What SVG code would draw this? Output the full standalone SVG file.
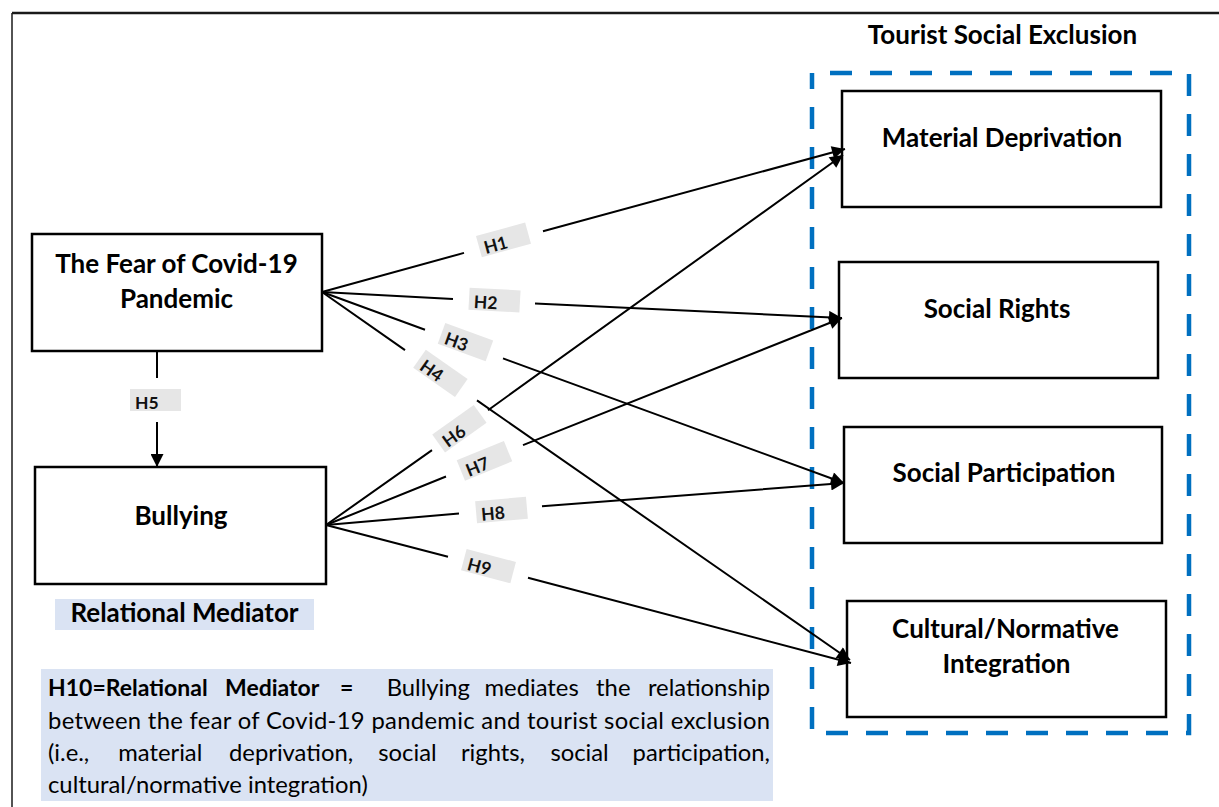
<svg xmlns="http://www.w3.org/2000/svg" width="1219" height="807" viewBox="0 0 1219 807">
<defs>
<marker id="ah" viewBox="0 0 10 10" refX="10" refY="5" markerWidth="15" markerHeight="13" markerUnits="userSpaceOnUse" orient="auto">
<path d="M0,0 L10,5 L0,10 z" fill="#000"/>
</marker>
<style>
.node{fill:#fff;stroke:#000;stroke-width:2.5}
.nt{font-family:Lato,"Liberation Sans",sans-serif;font-weight:700;font-size:26px;fill:#000;text-anchor:middle}
.conn{fill:none;stroke:#000;stroke-width:2;marker-end:url(#ah)}
.hl{fill:#e6e6e6}
.ht{font-family:Lato,"Liberation Sans",sans-serif;font-weight:700;font-size:17.5px;fill:#111}
.bt{font-family:Lato,"Liberation Sans",sans-serif;font-size:23.8px;fill:#000}
.b{font-weight:700;font-size:23px}
</style>
</defs>
<rect width="1219" height="807" fill="#fff"/>
<g id="frame">
<line x1="12" y1="13" x2="1219" y2="13" stroke="#1a1a1a" stroke-width="2.5"/>
<line x1="12" y1="13" x2="12" y2="807" stroke="#1a1a1a" stroke-width="1.5"/>
</g>
<g id="group-tse">
<rect x="812" y="73" width="377" height="660" fill="none" stroke="#0070c0" stroke-width="4.5" stroke-dasharray="22 18" stroke-dashoffset="22"/>
<text class="nt" x="1002.5" y="44">Tourist Social Exclusion</text>
</g>
<g id="node-fear">
<rect class="node" x="32" y="234" width="290" height="117"/>
<text class="nt" x="176.5" y="273">The Fear of Covid-19</text>
<text class="nt" x="176.5" y="308">Pandemic</text>
</g>
<g id="node-bullying">
<rect class="node" x="35" y="467" width="291" height="117"/>
<text class="nt" x="181" y="525">Bullying</text>
</g>
<g id="label-mediator">
<rect x="55" y="599" width="259" height="31" fill="#dae3f3"/>
<text class="nt" x="184.5" y="622">Relational Mediator</text>
</g>
<g id="node-md">
<rect class="node" x="842" y="91" width="319" height="116"/>
<text class="nt" x="1002" y="147">Material Deprivation</text>
</g>
<g id="node-sr">
<rect class="node" x="839" y="262" width="319" height="116"/>
<text class="nt" x="997" y="318">Social Rights</text>
</g>
<g id="node-sp">
<rect class="node" x="844" y="427" width="318" height="116"/>
<text class="nt" x="1004" y="482">Social Participation</text>
</g>
<g id="node-cn">
<rect class="node" x="847" y="601" width="319" height="116"/>
<text class="nt" x="1005.5" y="638">Cultural/Normative</text>
<text class="nt" x="1006.5" y="673">Integration</text>
</g>
<g id="connectors">
<path class="conn" d="M322,292 L464,252.9 M543,231.2 L845,149"/>
<path class="conn" d="M322,292 L453,299.1 M535,303.5 L842,318"/>
<path class="conn" d="M322,292 L425,329.8 M503,358.4 L844,483"/>
<path class="conn" d="M322,292 L405,350.1 M477,400.4 L850,660"/>
<path class="conn" d="M157,351 L157,378 M157,422 L157,467"/>
<path class="conn" d="M326,525 L432,450.1 M488,410.2 L843,155"/>
<path class="conn" d="M326,525 L446,476.5 M523,445.1 L842,318"/>
<path class="conn" d="M326,525 L459,513.5 M542,506.3 L844,483"/>
<path class="conn" d="M326,525 L448,556.7 M528,577.7 L851,663"/>
</g>
<g id="label-h1" transform="translate(503,240) rotate(-15.4)"><rect class="hl" x="-25" y="-11" width="51" height="22"/><text class="ht" x="-20" y="9">H1</text></g>
<g id="label-h2" transform="translate(494,300) rotate(3.1)"><rect class="hl" x="-25" y="-11" width="51" height="22"/><text class="ht" x="-20" y="9">H2</text></g>
<g id="label-h3" transform="translate(465,342) rotate(20.1)"><rect class="hl" x="-25" y="-11" width="51" height="22"/><text class="ht" x="-20" y="9">H3</text></g>
<g id="label-h4" transform="translate(440,373) rotate(35)"><rect class="hl" x="-25" y="-11" width="51" height="22"/><text class="ht" x="-20" y="9">H4</text></g>
<g id="label-h5"><rect class="hl" x="130" y="389" width="51" height="22"/><text class="ht" x="135" y="409">H5</text></g>
<g id="label-h6" transform="translate(459,429) rotate(-35.5)"><rect class="hl" x="-25" y="-11" width="51" height="22"/><text class="ht" x="-20" y="9">H6</text></g>
<g id="label-h7" transform="translate(484,461) rotate(-22.2)"><rect class="hl" x="-25" y="-11" width="51" height="22"/><text class="ht" x="-20" y="9">H7</text></g>
<g id="label-h8" transform="translate(501,510) rotate(-5)"><rect class="hl" x="-25" y="-11" width="51" height="22"/><text class="ht" x="-20" y="9">H8</text></g>
<g id="label-h9" transform="translate(488,566) rotate(14.7)"><rect class="hl" x="-25" y="-11" width="51" height="22"/><text class="ht" x="-20" y="9">H9</text></g>
<g id="note-h10">
<rect x="41" y="669" width="732" height="132" fill="#dae3f3"/>
<text class="bt" y="696"><tspan class="b" x="48">H10=Relational</tspan><tspan class="b" x="225">Mediator</tspan><tspan class="b" x="340">=</tspan><tspan x="386.7">Bullying</tspan><tspan x="484.5">mediates</tspan><tspan x="596.1">the</tspan><tspan x="770" text-anchor="end">relationship</tspan></text>
<text class="bt" x="48" y="728.5" textLength="722" lengthAdjust="spacing">between the fear of Covid-19 pandemic and tourist social exclusion</text>
<text class="bt" y="761"><tspan x="48">(i.e.,</tspan><tspan x="118.2">material</tspan><tspan x="229">deprivation,</tspan><tspan x="378.3">social</tspan><tspan x="460.9">rights,</tspan><tspan x="550.4">social</tspan><tspan x="770" text-anchor="end">participation,</tspan></text>
<text class="bt" x="48" y="793">cultural/normative integration)</text>
</g>
</svg>
